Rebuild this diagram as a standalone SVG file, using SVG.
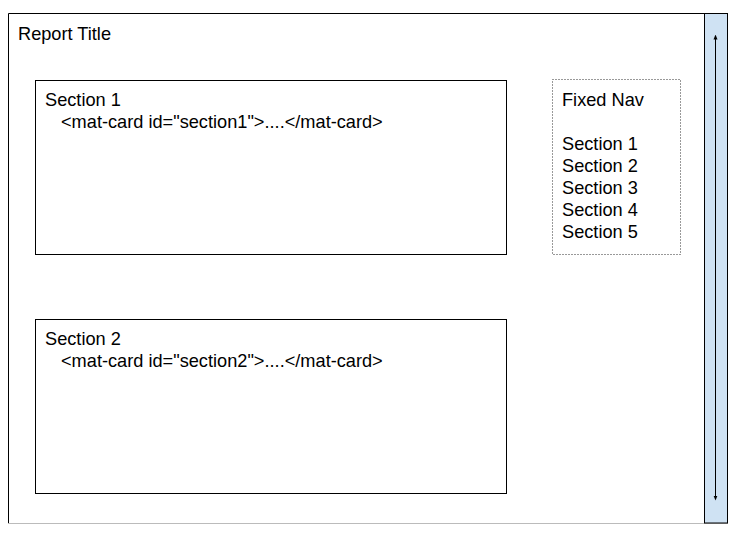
<svg xmlns="http://www.w3.org/2000/svg" width="736" height="535" viewBox="0 0 736 535">
<style>
text{font-family:"Liberation Sans",Arial,sans-serif;font-size:18.2px;fill:#000}
.box{fill:#fff;stroke:#000;stroke-width:1}
</style>
<defs>
<marker id="ah" viewBox="0 0 10 10" refX="5" refY="5" markerWidth="5" markerHeight="5" orient="auto-start-reverse"><path d="M0,1L10,5L0,9z" fill="#000"/></marker>
</defs>
<rect width="736" height="535" fill="#fff"/>
<g id="page">
<path d="M8.5,523V13.5H704" fill="none" stroke="#000"/>
<line x1="8" y1="523.5" x2="728" y2="523.5" stroke="#bbb"/>
<text x="18" y="40">Report Title</text>
</g>
<g id="scrollbar">
<rect x="704.5" y="13.5" width="23" height="509.5" fill="#cfe2f3" stroke="#000"/>
</g>
<g id="section1">
<rect class="box" x="35.5" y="80.5" width="471" height="174"/>
<text x="45" y="106">Section 1</text>
<text x="61" y="128">&lt;mat-card id="section1"&gt;....&lt;/mat-card&gt;</text>
</g>
<g id="section2">
<rect class="box" x="35.5" y="319.5" width="471" height="174"/>
<text x="45" y="345">Section 2</text>
<text x="61" y="367">&lt;mat-card id="section2"&gt;....&lt;/mat-card&gt;</text>
</g>
<g id="nav">
<rect x="552.5" y="79.5" width="128" height="175" fill="none" stroke="#333" stroke-dasharray="1,2"/>
<text x="562" y="106">Fixed Nav</text>
<text x="562" y="150">Section 1</text>
<text x="562" y="172">Section 2</text>
<text x="562" y="194">Section 3</text>
<text x="562" y="216">Section 4</text>
<text x="562" y="238">Section 5</text>
</g>
<g id="connectors">
<line x1="715.5" y1="37" x2="715.5" y2="498" stroke="#000" marker-start="url(#ah)" marker-end="url(#ah)"/>
</g>
</svg>
